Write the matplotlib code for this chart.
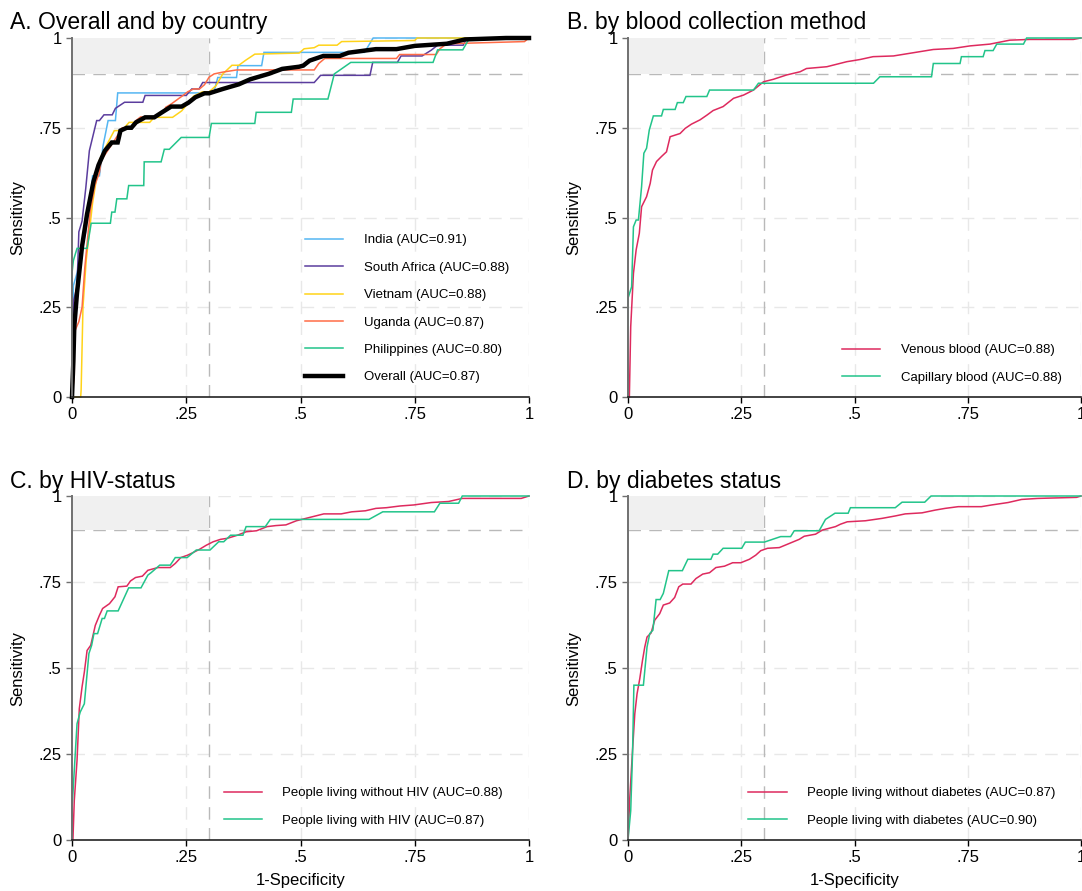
import matplotlib
matplotlib.use("Agg")
import matplotlib.pyplot as plt

plt.rcParams['font.family'] = ['Liberation Sans', 'DejaVu Sans']

# ---- data ----
ticks = [0, 0.25, 0.5, 0.75, 1]
tick_labels = ['0', '.25', '.5', '.75', '1']

# A. overall and by country
india_fpr = [0, 0.003, 0.011, 0.02, 0.03, 0.04, 0.045, 0.06, 0.068, 0.079, 0.095, 0.10, 0.31,
             0.319, 0.36, 0.363, 0.415, 0.42, 0.64, 0.659, 1.0]
india_tpr = [0, 0.31, 0.345, 0.40, 0.46, 0.55, 0.616, 0.616, 0.70, 0.77, 0.77, 0.847, 0.847,
             0.89, 0.89, 0.923, 0.923, 0.96, 0.96, 1.0, 1.0]

safrica_fpr = [0, 0.003, 0.011, 0.015, 0.022, 0.030, 0.038, 0.054, 0.060, 0.070, 0.088, 0.095,
               0.115, 0.155, 0.160, 0.250, 0.262, 0.278, 0.286, 0.530, 0.544, 0.652, 0.658,
               0.712, 0.720, 0.766, 0.786, 0.800, 0.856, 0.862, 0.870, 1.0]
safrica_tpr = [0, 0.266, 0.307, 0.460, 0.490, 0.580, 0.686, 0.770, 0.770, 0.786, 0.786, 0.804,
               0.821, 0.821, 0.840, 0.840, 0.858, 0.858, 0.876, 0.876, 0.896, 0.896, 0.932,
               0.932, 0.950, 0.950, 0.966, 0.980, 0.980, 0.995, 1.0, 1.0]

vietnam_fpr = [0, 0.006, 0.019, 0.020, 0.024, 0.031, 0.045, 0.060, 0.075, 0.0925, 0.109, 0.125,
               0.170, 0.180, 0.220, 0.240, 0.255, 0.266, 0.285, 0.300, 0.315, 0.330, 0.350,
               0.365, 0.380, 0.400, 0.497, 0.508, 0.530, 0.540, 0.580, 0.590, 0.750, 0.755, 1.0]
vietnam_tpr = [0, 0, 0, 0.02, 0.25, 0.38, 0.54, 0.66, 0.70, 0.742, 0.742, 0.765, 0.765, 0.779,
               0.779, 0.797, 0.820, 0.838, 0.850, 0.850, 0.867, 0.900, 0.924, 0.924, 0.938,
               0.955, 0.958, 0.970, 0.973, 0.980, 0.980, 0.990, 0.993, 1.0, 1.0]

uganda_fpr = [0, 0.005, 0.005, 0.015, 0.022, 0.028, 0.040, 0.050, 0.060, 0.064, 0.080, 0.095,
              0.110, 0.130, 0.140, 0.150, 0.180, 0.200, 0.205, 0.217, 0.232, 0.243, 0.253,
              0.266, 0.279, 0.290, 0.300, 0.311, 0.330, 0.360, 0.530, 0.540, 0.553, 0.710,
              0.717, 0.797, 0.805, 0.820, 0.990, 1.0]
uganda_tpr = [0, 0.06, 0.18, 0.21, 0.25, 0.36, 0.52, 0.59, 0.625, 0.66, 0.69, 0.719, 0.75, 0.75,
              0.77, 0.78, 0.78, 0.793, 0.807, 0.816, 0.830, 0.840, 0.850, 0.858, 0.858, 0.870,
              0.891, 0.900, 0.905, 0.911, 0.911, 0.929, 0.943, 0.943, 0.954, 0.954, 0.970,
              0.984, 0.990, 1.0]

phil_fpr = [0, 0, 0.003, 0.011, 0.033, 0.042, 0.084, 0.087, 0.094, 0.098, 0.120, 0.124, 0.157,
            0.158, 0.195, 0.202, 0.213, 0.239, 0.300, 0.305, 0.400, 0.403, 0.480, 0.484, 0.560,
            0.574, 0.610, 0.790, 0.800, 0.855, 0.870, 1.0]
phil_tpr = [0, 0.345, 0.38, 0.414, 0.414, 0.484, 0.484, 0.515, 0.515, 0.552, 0.552, 0.589, 0.589,
            0.655, 0.655, 0.69, 0.69, 0.723, 0.723, 0.762, 0.762, 0.793, 0.793, 0.83, 0.83, 0.9,
            0.932, 0.932, 0.967, 0.967, 1.0, 1.0]

overall_fpr = [0, 0.003, 0.005, 0.011, 0.022, 0.033, 0.047, 0.058, 0.072, 0.087, 0.100, 0.106,
               0.120, 0.130, 0.140, 0.160, 0.180, 0.197, 0.217, 0.240, 0.255, 0.270, 0.290,
               0.300, 0.330, 0.365, 0.390, 0.430, 0.460, 0.497, 0.506, 0.520, 0.550, 0.586,
               0.605, 0.665, 0.710, 0.750, 0.820, 0.860, 0.950, 1.0]
overall_tpr = [0, 0.10, 0.196, 0.29, 0.42, 0.51, 0.60, 0.646, 0.686, 0.709, 0.709, 0.742, 0.75,
               0.75, 0.765, 0.779, 0.779, 0.793, 0.809, 0.809, 0.82, 0.835, 0.846, 0.846, 0.858,
               0.871, 0.885, 0.90, 0.914, 0.92, 0.923, 0.937, 0.95, 0.95, 0.959, 0.969, 0.969,
               0.978, 0.984, 0.996, 1.0, 1.0]

# B. blood collection method
venous_fpr = [0, 0.003, 0.006, 0.012, 0.018, 0.025, 0.030, 0.041, 0.049, 0.054, 0.063, 0.074,
              0.085, 0.093, 0.115, 0.126, 0.140, 0.159, 0.174, 0.188, 0.210, 0.233, 0.255,
              0.277, 0.299, 0.321, 0.350, 0.380, 0.394, 0.439, 0.483, 0.512, 0.541, 0.586,
              0.630, 0.674, 0.718, 0.755, 0.799, 0.843, 0.887, 0.983, 1.0]
venous_tpr = [0, 0.0, 0.196, 0.344, 0.41, 0.456, 0.53, 0.558, 0.595, 0.632, 0.656, 0.67, 0.683,
              0.725, 0.734, 0.748, 0.76, 0.772, 0.785, 0.798, 0.809, 0.832, 0.841, 0.855, 0.878,
              0.885, 0.897, 0.906, 0.915, 0.92, 0.934, 0.94, 0.948, 0.95, 0.959, 0.968, 0.971,
              0.978, 0.983, 0.994, 0.996, 0.996, 1.0]

capillary_fpr = [0, 0, 0.008, 0.012, 0.018, 0.023, 0.030, 0.035, 0.041, 0.047, 0.056, 0.074,
                 0.078, 0.104, 0.109, 0.122, 0.128, 0.174, 0.180, 0.277, 0.288, 0.542, 0.556,
                 0.670, 0.674, 0.733, 0.736, 0.784, 0.788, 0.806, 0.814, 0.873, 0.880, 1.0]
capillary_tpr = [0, 0.275, 0.307, 0.474, 0.493, 0.493, 0.586, 0.679, 0.693, 0.744, 0.783, 0.783,
                 0.801, 0.801, 0.82, 0.82, 0.837, 0.837, 0.855, 0.855, 0.874, 0.874, 0.892,
                 0.892, 0.929, 0.929, 0.948, 0.948, 0.965, 0.965, 0.983, 0.983, 1.0, 1.0]

# C. HIV status
nohiv_fpr = [0, 0.002, 0.005, 0.011, 0.016, 0.022, 0.027, 0.033, 0.041, 0.051, 0.060, 0.067,
             0.082, 0.094, 0.101, 0.120, 0.128, 0.139, 0.154, 0.166, 0.188, 0.215, 0.226, 0.238,
             0.253, 0.264, 0.279, 0.294, 0.309, 0.325, 0.340, 0.362, 0.381, 0.404, 0.427, 0.446,
             0.468, 0.491, 0.521, 0.551, 0.589, 0.612, 0.642, 0.665, 0.688, 0.718, 0.748, 0.786,
             0.824, 0.854, 0.983, 1.0]
nohiv_tpr = [0, 0, 0.115, 0.231, 0.382, 0.445, 0.488, 0.551, 0.566, 0.624, 0.653, 0.673, 0.687,
             0.707, 0.736, 0.738, 0.753, 0.763, 0.767, 0.784, 0.792, 0.792, 0.804, 0.821, 0.828,
             0.835, 0.845, 0.857, 0.867, 0.874, 0.877, 0.886, 0.896, 0.899, 0.911, 0.914, 0.916,
             0.928, 0.938, 0.948, 0.948, 0.954, 0.957, 0.964, 0.966, 0.971, 0.974, 0.981, 0.984,
             0.993, 0.993, 1.0]

hiv_fpr = [0, 0, 0.011, 0.018, 0.027, 0.037, 0.043, 0.048, 0.056, 0.066, 0.071, 0.077, 0.101,
           0.124, 0.151, 0.166, 0.173, 0.192, 0.215, 0.226, 0.252, 0.272, 0.302, 0.321, 0.332,
           0.347, 0.374, 0.381, 0.423, 0.434, 0.650, 0.680, 0.793, 0.805, 0.846, 0.854, 1.0]
hiv_tpr = [0, 0.09, 0.338, 0.372, 0.396, 0.542, 0.566, 0.60, 0.60, 0.644, 0.644, 0.666, 0.666,
           0.733, 0.733, 0.77, 0.777, 0.799, 0.799, 0.821, 0.821, 0.843, 0.843, 0.867, 0.867,
           0.886, 0.886, 0.911, 0.911, 0.932, 0.932, 0.954, 0.954, 0.979, 0.979, 1.0, 1.0]

# D. diabetes status
nodm_fpr = [0, 0.004, 0.010, 0.015, 0.020, 0.026, 0.032, 0.037, 0.042, 0.051, 0.059, 0.070,
            0.078, 0.092, 0.103, 0.112, 0.121, 0.139, 0.150, 0.165, 0.180, 0.194, 0.213, 0.231,
            0.249, 0.268, 0.282, 0.293, 0.308, 0.334, 0.356, 0.378, 0.389, 0.414, 0.429, 0.458,
            0.469, 0.484, 0.524, 0.561, 0.590, 0.612, 0.649, 0.678, 0.700, 0.729, 0.780, 0.803,
            0.839, 0.869, 0.905, 0.990, 1.0]
nodm_tpr = [0, 0.124, 0.26, 0.367, 0.425, 0.469, 0.522, 0.561, 0.59, 0.602, 0.639, 0.658, 0.683,
            0.689, 0.705, 0.736, 0.744, 0.744, 0.76, 0.773, 0.777, 0.792, 0.796, 0.806, 0.806,
            0.816, 0.828, 0.841, 0.848, 0.85, 0.862, 0.874, 0.883, 0.889, 0.901, 0.911, 0.918,
            0.925, 0.928, 0.935, 0.942, 0.948, 0.951, 0.959, 0.964, 0.969, 0.969, 0.974, 0.981,
            0.99, 0.993, 0.996, 1.0]

dm_fpr = [0, 0.006, 0.010, 0.013, 0.034, 0.042, 0.048, 0.055, 0.062, 0.071, 0.078, 0.090, 0.120,
          0.132, 0.183, 0.188, 0.198, 0.210, 0.251, 0.259, 0.301, 0.337, 0.359, 0.367, 0.422,
          0.436, 0.457, 0.486, 0.491, 0.590, 0.605, 0.655, 0.669, 1.0]
dm_tpr = [0, 0.085, 0.25, 0.45, 0.45, 0.561, 0.60, 0.61, 0.699, 0.699, 0.717, 0.783, 0.783,
          0.816, 0.816, 0.831, 0.831, 0.848, 0.848, 0.866, 0.866, 0.882, 0.882, 0.899, 0.899,
          0.932, 0.95, 0.95, 0.966, 0.966, 0.982, 0.982, 1.0, 1.0]

# colours
C_INDIA = '#55b6f2'
C_SA = '#5b3d9e'
C_VN = '#ffd319'
C_UG = '#ff6c47'
C_GREEN = '#22c48a'
C_RED = '#de2a5e'

W, H = 1082, 891
fig = plt.figure(figsize=(W / 100, H / 100), dpi=100)


def make_axes(left, top, right, bottom):
    """axes from pixel box (top-left origin)"""
    return fig.add_axes([left / W, 1 - bottom / H, (right - left) / W, (bottom - top) / H])


def style_axes(ax, width_px, height_px, xlabel=False):
    ax.set_xlim(0, 1)
    ax.set_ylim(0, 1)
    # light dashed grid
    for v in ticks[1:]:
        ax.axhline(v, color='#e8e8e8', lw=1, ls=(0, (9, 6)), zorder=1)
        ax.axvline(v, color='#e8e8e8', lw=1, ls=(0, (9, 6)), zorder=1)
    # reference lines + target region
    ax.axhline(0.9, color='#b9b9b9', lw=1, ls=(0, (9, 6)), zorder=1.2)
    ax.axvline(0.3, color='#b9b9b9', lw=1, ls=(0, (9, 6)), zorder=1.2)
    ax.axhspan(0.9, 1.0, xmin=0, xmax=0.3, color='#f0f0f0', lw=0, zorder=1.5)

    ax.set_xticks(ticks)
    ax.set_xticklabels(tick_labels)
    ax.set_yticks(ticks)
    ax.set_yticklabels(tick_labels)
    ax.tick_params(axis='both', direction='out', length=4.5, width=1, labelsize=12, pad=3)
    ax.tick_params(axis='y', color='#707070')
    for s in ['top', 'right']:
        ax.spines[s].set_visible(False)
    ax.spines['left'].set_color('#707070')
    ax.spines['left'].set_linewidth(1.4)
    ax.spines['bottom'].set_color('#222222')
    ax.spines['bottom'].set_linewidth(1.2)
    ax.spines['left'].set_zorder(5)
    ax.spines['bottom'].set_zorder(5)

    ax.set_ylabel('Sensitivity', fontsize=12)
    ax.yaxis.set_label_coords(-47 / width_px, 0.5)
    if xlabel:
        ax.set_xlabel('1-Specificity', fontsize=12)
        ax.xaxis.set_label_coords(0.5, -33 / height_px)


def add_legend(ax, x0, y0):
    ax.legend(loc='lower left', bbox_to_anchor=(x0, y0), frameon=False, fontsize=9.5,
              borderpad=0, borderaxespad=0, handlelength=2.9, handletextpad=1.55,
              labelspacing=1.15)


def curve(ax, x, y, color, label, lw=1.1):
    ax.plot(x, y, color=color, lw=lw, label=label, zorder=3, clip_on=False,
            solid_joinstyle='miter')


# ---- A ----
axA = make_axes(72, 38, 529, 397)
style_axes(axA, 457, 359)
curve(axA, india_fpr, india_tpr, C_INDIA, 'India (AUC=0.91)')
curve(axA, safrica_fpr, safrica_tpr, C_SA, 'South Africa (AUC=0.88)')
curve(axA, vietnam_fpr, vietnam_tpr, C_VN, 'Vietnam (AUC=0.88)')
curve(axA, uganda_fpr, uganda_tpr, C_UG, 'Uganda (AUC=0.87)')
curve(axA, phil_fpr, phil_tpr, C_GREEN, 'Philippines (AUC=0.80)')
curve(axA, overall_fpr, overall_tpr, 'black', 'Overall (AUC=0.87)', lw=3.2)
add_legend(axA, 0.51, 0.038)

# ---- B ----
axB = make_axes(628, 38, 1081, 397)
style_axes(axB, 453, 359)
curve(axB, venous_fpr, venous_tpr, C_RED, 'Venous blood (AUC=0.88)')
curve(axB, capillary_fpr, capillary_tpr, C_GREEN, 'Capillary blood (AUC=0.88)')
add_legend(axB, 0.472, 0.037)

# ---- C ----
axC = make_axes(72, 496, 529, 840)
style_axes(axC, 457, 344, xlabel=True)
curve(axC, nohiv_fpr, nohiv_tpr, C_RED, 'People living without HIV (AUC=0.88)')
curve(axC, hiv_fpr, hiv_tpr, C_GREEN, 'People living with HIV (AUC=0.87)')
add_legend(axC, 0.332, 0.039)

# ---- D ----
axD = make_axes(628, 496, 1081, 840)
style_axes(axD, 453, 344, xlabel=True)
curve(axD, nodm_fpr, nodm_tpr, C_RED, 'People living without diabetes (AUC=0.87)')
curve(axD, dm_fpr, dm_tpr, C_GREEN, 'People living with diabetes (AUC=0.90)')
add_legend(axD, 0.266, 0.039)

# panel titles
title_kw = dict(fontsize=16.5, va='baseline', ha='left')
fig.text(10 / W, 1 - 29 / H, 'A. Overall and by country', **title_kw)
fig.text(567 / W, 1 - 29 / H, 'B. by blood collection method', **title_kw)
fig.text(10 / W, 1 - 488 / H, 'C. by HIV-status', **title_kw)
fig.text(567 / W, 1 - 488 / H, 'D. by diabetes status', **title_kw)

fig.savefig('out.png', dpi=100, facecolor='white')
